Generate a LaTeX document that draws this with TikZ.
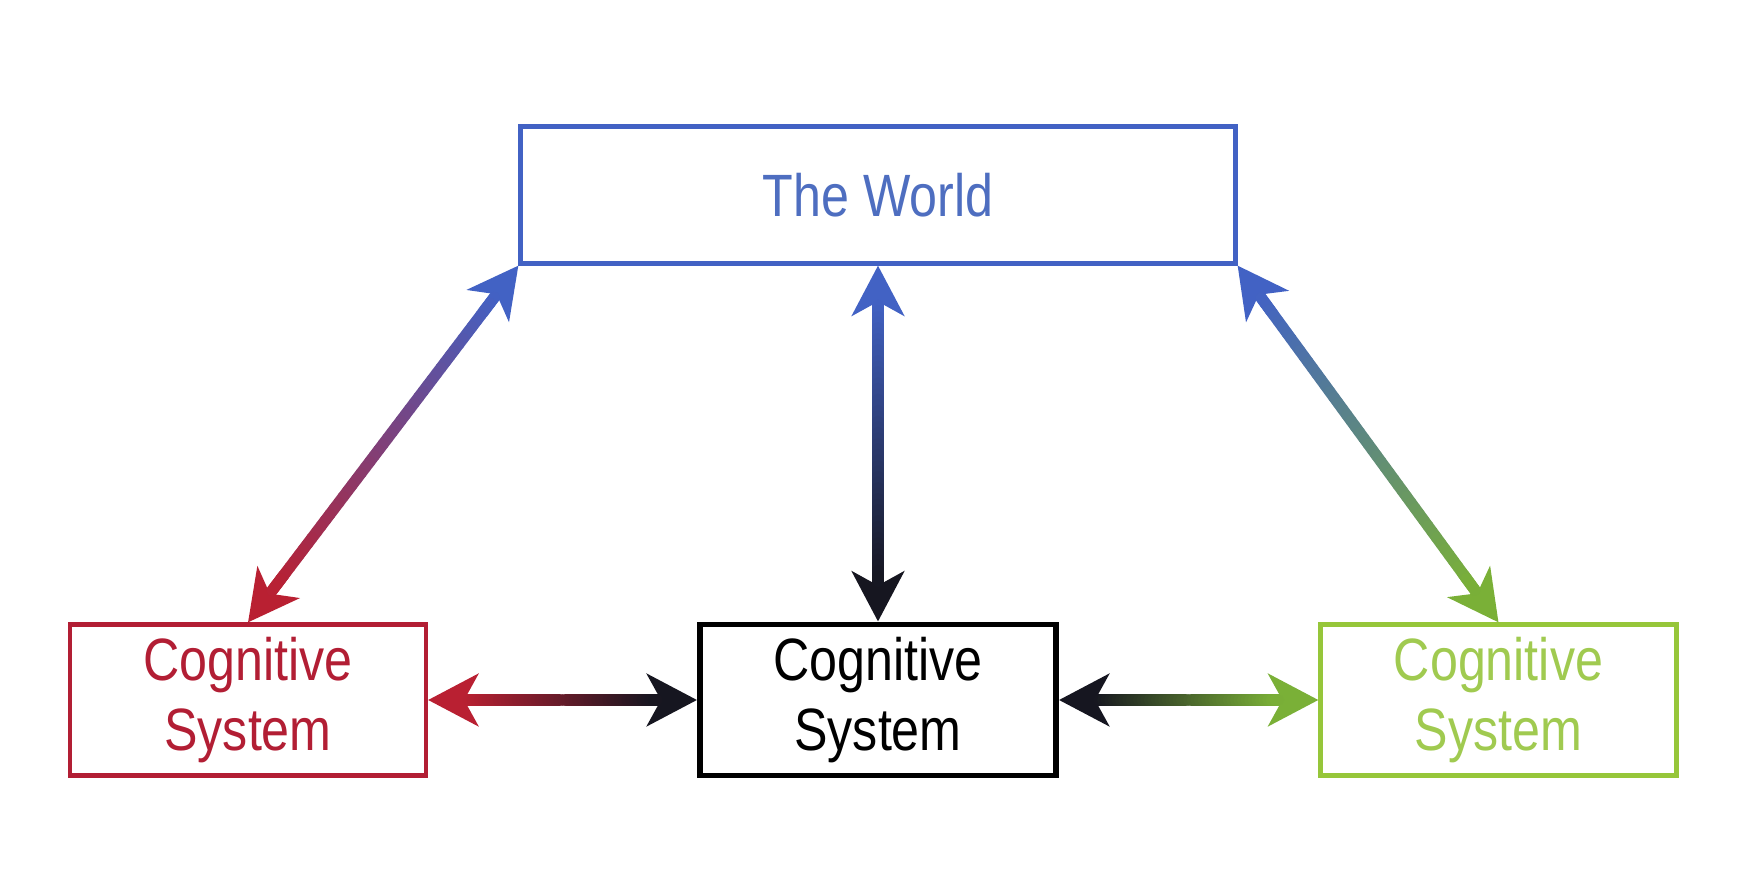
\documentclass[tikz,border=0pt]{standalone}
\usepackage{fontspec}
\setmainfont{Liberation Sans}
\newfontfamily\narrowsans[FakeStretch=0.84]{Liberation Sans}
\usetikzlibrary{arrows.meta,calc}

\definecolor{worldblue}{RGB}{66,98,196}
\definecolor{worldtext}{RGB}{78,110,192}
\definecolor{sysred}{RGB}{178,30,52}
\definecolor{sysgreen}{RGB}{150,198,58}
\definecolor{sysgreentext}{RGB}{160,202,80}
\definecolor{headred}{RGB}{185,32,50}
\definecolor{headdark}{RGB}{22,22,32}
\definecolor{headgreen}{RGB}{122,176,55}

\tikzset{
  box/.style={draw, line width=1.2pt, minimum width=3.56cm, minimum height=1.51cm,
    align=center, inner sep=0pt, font=\narrowsans\fontsize{17}{20}\selectfont},
  link/.style={line width=3.2pt, line cap=round},
  tip/.style={line width=3.2pt, {Stealth[length=5mm,width=5.2mm,inset=1.4mm]}-}
}

% two-way arrow: heads in #3 and #4, shaft running from #3 to #4
\newcommand{\twoway}[4]{%
  \draw[tip, #3] (#1) -- ($(#1)!6mm!(#2)$);
  \draw[tip, #4] (#2) -- ($(#2)!6mm!(#1)$);
  \coordinate (s) at ($(#1)!4mm!(#2)$);
  \coordinate (e) at ($(#2)!4mm!(#1)$);
  \foreach \k in {0,...,49}{%
    \pgfmathtruncatemacro{\pct}{100-(100*\k+50)/50}%
    \draw[link, #3!\pct!#4] ($(s)!{\k/50}!(e)$) -- ($(s)!{(\k+1)/50}!(e)$);
  }
}

\begin{document}
\begin{tikzpicture}
    \useasboundingbox (0,0) rectangle (17.46,8.86);
    \node[box, draw=worldblue, text=worldtext, minimum width=7.15cm, minimum height=1.37cm] (world) at (8.78,6.91) {The World};
    \node[box, draw=sysred, text=sysred] (left) at (2.48,1.86) {Cognitive\\System};
    \node[box, draw=black, line width=1.7pt] (mid) at (8.78,1.86) {Cognitive\\System};
    \node[box, draw=sysgreen, text=sysgreentext] (right) at (14.985,1.86) {Cognitive\\System};

    \twoway{world.south west}{left.north}{worldblue}{headred}
    \twoway{world.south}{mid.north}{worldblue}{headdark}
    \twoway{world.south east}{right.north}{worldblue}{headgreen}
    \twoway{left.east}{mid.west}{headred}{headdark}
    \twoway{mid.east}{right.west}{headdark}{headgreen}
\end{tikzpicture}
\end{document}
